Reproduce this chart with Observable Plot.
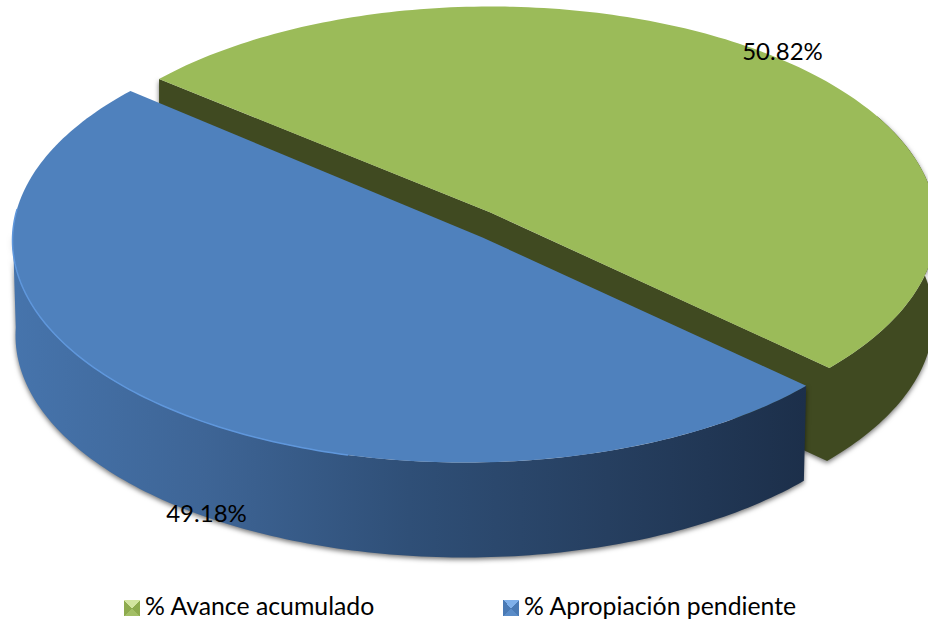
<!DOCTYPE html>
<html>
<head>
<meta charset="utf-8">
<script src="https://cdn.jsdelivr.net/npm/d3@7"></script>
<script src="https://cdn.jsdelivr.net/npm/@observablehq/plot@0.6"></script>
<style>
  html, body { margin: 0; padding: 0; background: #fff; }
  #chart svg { display: block; }
  #legend { position: relative; width: 928px; height: 32px; font-family: Lato, sans-serif; font-size: 24.8px; color: #000; }
  #legend .key { position: absolute; top: 10px; width: 16px; height: 16px; box-sizing: border-box; }
  #legend .txt { position: absolute; top: 0px; line-height: 32px; white-space: nowrap; }
</style>
</head>
<body>
<div id="chart"></div>
<div id="legend"></div>
<script>
// Values
const categories = ["% Avance acumulado", "% Apropiación pendiente"];
const shares = [50.82, 49.18];
const topColors = ["#9bbb59", "#4f81bd"];
const legendLeft = [124, 503];
const legendKeys = [
  "conic-gradient(from 315deg at 50% 50%, #d3e5a0 0 90deg, #8eab4e 90deg 180deg, #a3bf66 180deg 270deg, #8eab4e 270deg 360deg)",
  "conic-gradient(from 315deg at 50% 50%, #7fb0ea 0 90deg, #4a7ab5 90deg 180deg, #5a8cc8 180deg 270deg, #4a7ab5 270deg 360deg)"
];

// Layout of the tilted, exploded pie (pixels of the picture)
const W = 928, H = 590;
const depth = 95;
const green = {cx: 490, cy: 225, a: 446, b: 219, start: 222, warp: -4.4, apex: [490, 212]};
const blue  = {cx: 464, cy: 240, a: 452, b: 222, start: 40.9, warp: 4.4, apex: [482, 237]};

const rad = d => d * Math.PI / 180;
const pt = (e, deg, dy = 0, shrink = 0) => ({
  x: e.cx + (e.a - shrink) * Math.cos(rad(deg)),
  y: e.cy + dy + e.b * Math.sin(rad(deg))
});
const arc = (e, from, to, dy = 0, shrink = 0) => {
  const n = Math.ceil(Math.abs(to - from));
  return d3.range(n + 1).map(i => pt(e, from + (to - from) * i / n, dy, shrink));
};
const sweep = (e, share) => share * 3.6 + e.warp;

const gEnd = green.start + sweep(green, shares[0]);
const bEnd = blue.start + sweep(blue, shares[1]);

const greenTop = [{x: green.apex[0], y: green.apex[1]}, ...arc(green, green.start, gEnd)];
const blueTop  = [{x: blue.apex[0], y: blue.apex[1]}, ...arc(blue, blue.start, bEnd)];

const gL = pt(green, green.start), gR = pt(green, gEnd), gRlow = pt(green, gEnd, depth - 2, 3);
// The outer wall and the cut face share one outline, so no seam shows between them
const greenWall = [
  gL,
  {x: green.apex[0], y: green.apex[1]},
  gR,
  ...arc(green, gEnd, 330),
  ...arc(green, 330, gEnd, depth - 2, 3),
  {x: green.apex[0], y: green.apex[1] + depth - 2},
  {x: gL.x, y: gL.y + depth - 2}
];
const blueOuter = [...arc(blue, blue.start, 182), ...arc(blue, 182, blue.start, depth, 3)];
const blueRim = arc(blue, 105, 188);

const labels = [
  {x: 782, y: 52, text: d3.format(".2f")(shares[0]) + "%"},
  {x: 206, y: 514, text: d3.format(".2f")(shares[1]) + "%"}
];

const defs = () => {
  const s = d3.create("svg:defs");
  const g = s.append("linearGradient").attr("id", "blueWall").attr("x1", 0).attr("x2", 1).attr("y1", 0).attr("y2", 0);
  [[0, "#4674ac"], [0.24, "#3e6596"], [0.5, "#2f4f77"], [0.75, "#263f60"], [1, "#1c2f4a"]]
    .forEach(([o, c]) => g.append("stop").attr("offset", o).attr("stop-color", c));
  return s.node();
};

const shadow = "drop-shadow(0px 2px 2.5px rgba(0,0,0,0.55))";

const chart = Plot.plot({
  width: W, height: H, margin: 0,
  x: {domain: [0, W], range: [0, W], axis: null},
  y: {domain: [0, H], range: [0, H], axis: null},
  marks: [
    defs,
    Plot.line(greenWall, {x: "x", y: "y", fill: "#404a21", stroke: "none", imageFilter: shadow}),
    Plot.line(greenTop, {x: "x", y: "y", fill: topColors[0], stroke: "none"}),
    Plot.line(blueOuter, {x: "x", y: "y", fill: "url(#blueWall)", stroke: "none", imageFilter: shadow}),
    Plot.line(blueTop, {x: "x", y: "y", fill: topColors[1], stroke: "none"}),
    Plot.line(blueRim, {x: "x", y: "y", stroke: "#5f97dc", strokeWidth: 1.5}),
    Plot.text(labels, {x: "x", y: "y", text: "text", fill: "#000", fontSize: 24, fontFamily: "Lato, sans-serif"})
  ]
});
document.getElementById("chart").append(chart);

const legend = d3.select("#legend");
categories.forEach((c, i) => {
  legend.append("div").attr("class", "key").style("left", legendLeft[i] + "px").style("background", legendKeys[i]);
  legend.append("div").attr("class", "txt").style("left", (legendLeft[i] + 21) + "px").text(c);
});
</script>
</body>
</html>
